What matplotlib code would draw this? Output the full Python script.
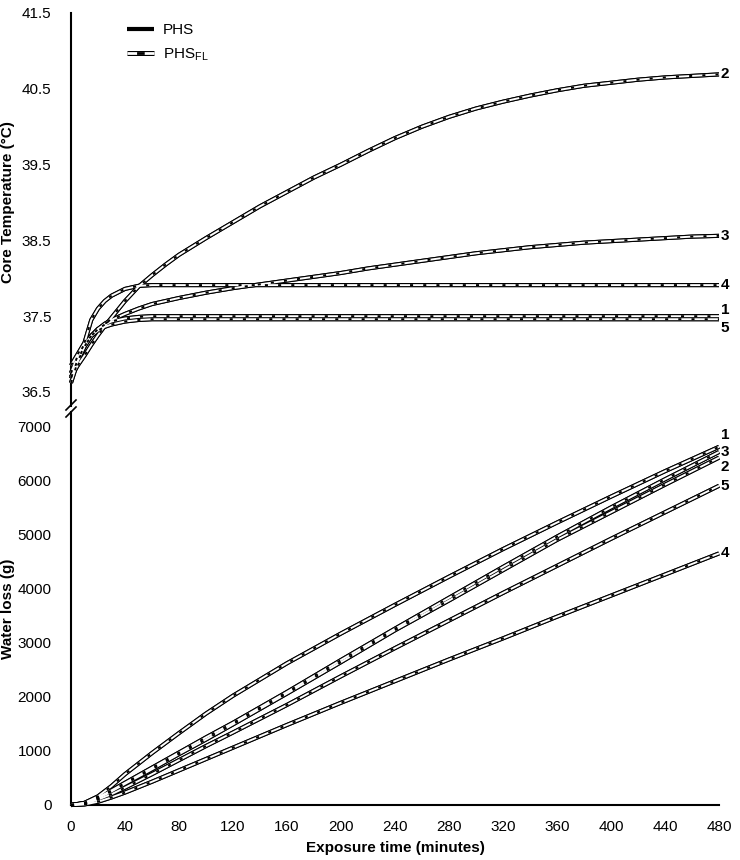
import matplotlib
matplotlib.use("Agg")
import matplotlib.pyplot as plt
from matplotlib.lines import Line2D
from matplotlib.legend_handler import HandlerTuple

plt.rcParams['font.family'] = ['Liberation Sans', 'DejaVu Sans']
plt.rcParams['mathtext.fontset'] = 'custom'
plt.rcParams['mathtext.rm'] = 'Liberation Sans'
plt.rcParams['lines.scale_dashes'] = False

# ---------------- data ----------------
scenarios = ["1", "2", "3", "4", "5"]

time_temp = [0, 5, 10, 15, 20, 25, 30, 40, 50, 60, 70, 80, 100, 120, 140, 160,
             180, 200, 220, 240, 260, 280, 300, 320, 340, 360, 380, 400, 420, 440, 460, 480]
temp_1 = [36.62, 36.90, 37.10, 37.24, 37.33, 37.39, 37.43, 37.47, 37.49, 37.50, 37.50,
          37.50, 37.50, 37.50, 37.50, 37.50, 37.50, 37.50, 37.50, 37.50, 37.50, 37.50,
          37.50, 37.50, 37.50, 37.50, 37.50, 37.50, 37.50, 37.50, 37.50, 37.50]
temp_2 = [36.70, 36.85, 36.98, 37.12, 37.25, 37.37, 37.48, 37.70, 37.89, 38.04, 38.18,
          38.31, 38.53, 38.74, 38.95, 39.14, 39.33, 39.50, 39.68, 39.85, 40.00, 40.13,
          40.24, 40.33, 40.41, 40.48, 40.54, 40.58, 40.62, 40.65, 40.67, 40.69]
temp_3 = [36.68, 36.93, 37.10, 37.24, 37.33, 37.40, 37.45, 37.53, 37.60, 37.66, 37.70,
          37.74, 37.81, 37.87, 37.92, 37.97, 38.02, 38.07, 38.13, 38.18, 38.23, 38.28,
          38.33, 38.37, 38.41, 38.44, 38.47, 38.49, 38.51, 38.53, 38.55, 38.56]
temp_4 = [36.85, 37.00, 37.15, 37.45, 37.60, 37.70, 37.77, 37.86, 37.90, 37.91, 37.91,
          37.91, 37.91, 37.91, 37.91, 37.91, 37.91, 37.91, 37.91, 37.91, 37.91, 37.91,
          37.91, 37.91, 37.91, 37.91, 37.91, 37.91, 37.91, 37.91, 37.91, 37.91]
temp_5 = [36.75, 36.98, 37.13, 37.24, 37.31, 37.36, 37.39, 37.43, 37.45, 37.46, 37.46,
          37.46, 37.46, 37.46, 37.46, 37.46, 37.46, 37.46, 37.46, 37.46, 37.46, 37.46,
          37.46, 37.46, 37.46, 37.46, 37.46, 37.46, 37.46, 37.46, 37.46, 37.46]

time_water = [0, 10, 20, 30, 40, 60, 80, 100, 120, 160, 200, 240, 280, 320, 360, 400, 440, 480]
water_1 = [0, 40, 160, 350, 570, 960, 1330, 1690, 2020, 2620, 3170, 3700, 4220, 4730, 5220, 5700, 6170, 6620]
water_2 = [0, 30, 120, 250, 390, 660, 940, 1210, 1490, 2060, 2640, 3230, 3780, 4340, 4900, 5410, 5920, 6420]
water_3 = [0, 35, 140, 270, 410, 690, 970, 1250, 1520, 2090, 2680, 3260, 3830, 4400, 4960, 5500, 6020, 6525]
water_4 = [0, 10, 60, 140, 230, 430, 640, 850, 1060, 1480, 1890, 2290, 2690, 3080, 3480, 3870, 4260, 4650]
water_5 = [0, 20, 100, 200, 320, 570, 830, 1090, 1340, 1850, 2380, 2900, 3410, 3920, 4420, 4920, 5410, 5900]

# PHS_FL predictions coincide with PHS predictions
temp_phs = [temp_1, temp_2, temp_3, temp_4, temp_5]
temp_phsfl = [temp_1, temp_2, temp_3, temp_4, temp_5]
water_phs = [water_1, water_2, water_3, water_4, water_5]
water_phsfl = [water_1, water_2, water_3, water_4, water_5]

temp_ticks = [36.5, 37.5, 38.5, 39.5, 40.5, 41.5]
water_ticks = [0, 1000, 2000, 3000, 4000, 5000, 6000, 7000]
time_ticks = list(range(0, 481, 40))

# label offsets (points) for end labels
temp_label_dy = {"1": 4.5, "2": 0, "3": 0, "4": 0, "5": -6.5}
water_label_dy = {"1": 8.5, "2": -6.5, "3": 0, "4": 0, "5": 0}

# ---------------- figure ----------------
W, H = 740, 860
fig = plt.figure(figsize=(W / 100, H / 100), dpi=100)
x0, x1 = 71, 719
ax_t = fig.add_axes([x0 / W, 1 - 406 / H, (x1 - x0) / W, (406 - 13) / H])
ax_b = fig.add_axes([x0 / W, 1 - 805 / H, (x1 - x0) / W, (805 - 412) / H])

DASH = (0, (2.2, 7.3))


def draw_phs(ax, t, y):
    ax.plot(t, y, color='black', lw=3.0, solid_capstyle='butt', clip_on=False, zorder=2)


def draw_phsfl(ax, t, y):
    ax.plot(t, y, color='black', lw=2.9, solid_capstyle='butt', clip_on=False, zorder=3)
    ax.plot(t, y, color='white', lw=1.4, solid_capstyle='butt', clip_on=False, zorder=4)
    ax.plot(t, y, color='black', lw=1.4, linestyle=DASH, clip_on=False, zorder=5)


for name, yp, yf in zip(scenarios, temp_phs, temp_phsfl):
    draw_phs(ax_t, time_temp, yp)
    draw_phsfl(ax_t, time_temp, yf)
    ax_t.annotate(name, xy=(time_temp[-1], yf[-1]), xytext=(1.2, temp_label_dy[name]),
                  textcoords='offset points', ha='left', va='center',
                  fontsize=11, fontweight='bold', annotation_clip=False)

for name, yp, yf in zip(scenarios, water_phs, water_phsfl):
    draw_phs(ax_b, time_water, yp)
    draw_phsfl(ax_b, time_water, yf)
    ax_b.annotate(name, xy=(time_water[-1], yf[-1]), xytext=(1.2, water_label_dy[name]),
                  textcoords='offset points', ha='left', va='center',
                  fontsize=11, fontweight='bold', annotation_clip=False)

# axes styling
for ax in (ax_t, ax_b):
    ax.set_xlim(0, 480)
    for s in ('top', 'right'):
        ax.spines[s].set_visible(False)
    ax.spines['left'].set_linewidth(1.5)
    ax.spines['bottom'].set_linewidth(1.5)
    ax.tick_params(length=0, labelsize=11)
    ax.yaxis.set_label_coords(-0.086, 0.5)

ax_t.set_ylim(36.315, 41.5)
ax_t.set_yticks(temp_ticks)
ax_t.set_yticklabels([f"{v:.1f}" for v in temp_ticks])
ax_t.spines['bottom'].set_visible(False)
ax_t.set_xticks([])
ax_t.tick_params(axis='y', pad=14)
ax_t.set_ylabel("Core Temperature (°C)", fontsize=11, fontweight='bold')
ax_t.yaxis.set_label_coords(-0.086, 0.52)

ax_b.set_ylim(0, 7264)
ax_b.set_yticks(water_ticks)
ax_b.set_yticklabels([str(v) for v in water_ticks])
ax_b.set_xticks(time_ticks)
ax_b.set_xticklabels([str(v) for v in time_ticks])
ax_b.tick_params(axis='y', pad=14)
ax_b.tick_params(axis='x', pad=11)
ax_b.set_ylabel("Water loss (g)", fontsize=11, fontweight='bold')
ax_b.set_xlabel("Exposure time (minutes)", fontsize=11, fontweight='bold', labelpad=5)

# axis break marks
for yc in (405, 412):
    fig.add_artist(Line2D([(x0 - 5) / W, (x0 + 5) / W],
                          [1 - (yc + 5) / H, 1 - (yc - 5) / H],
                          transform=fig.transFigure, color='black', lw=1.2))

# legend
h_phs = Line2D([], [], color='black', lw=3.0, solid_capstyle='butt')
h_out = Line2D([], [], color='black', lw=3.6, solid_capstyle='butt')
h_in = Line2D([], [], color='white', lw=2.0, solid_capstyle='butt')
h_mid = Line2D([], [], color='black', lw=2.0, linestyle=(98.6, (5.5, 100)))
leg = ax_t.legend([h_phs, (h_out, h_in, h_mid)], ["PHS", "PHS$_\\mathregular{FL}$"],
                  handler_map={tuple: HandlerTuple(ndivide=1, pad=0)},
                  loc='upper left', bbox_to_anchor=(127 / W, 1 - 23 / H),
                  bbox_transform=fig.transFigure, frameon=False, fontsize=11,
                  handlelength=1.75, handletextpad=0.6, labelspacing=0.6,
                  borderpad=0, borderaxespad=0)

fig.savefig("out.png", dpi=100)
